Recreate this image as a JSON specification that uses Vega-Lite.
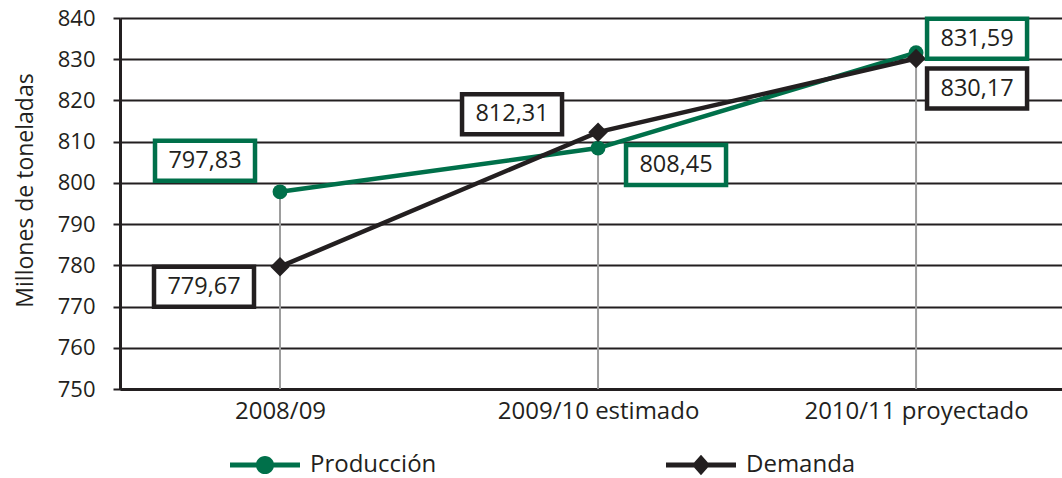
{
  "$schema": "https://vega.github.io/schema/vega-lite/v6.json",
  "width": 942,
  "height": 371,
  "autosize": {"type": "none"},
  "padding": {"left": 120, "top": 18, "right": 0, "bottom": 89},
  "background": "white",
  "config": {
    "locale": {"number": {"decimal": ",", "thousands": ".", "grouping": [3], "currency": ["", ""]}},
    "font": "Open Sans",
    "view": {"stroke": null}
  },
  "data": {
    "values": [
      {"periodo": "2008/09", "serie": "Producción", "valor": 797.83},
      {"periodo": "2009/10 estimado", "serie": "Producción", "valor": 808.45},
      {"periodo": "2010/11 proyectado", "serie": "Producción", "valor": 831.59},
      {"periodo": "2008/09", "serie": "Demanda", "valor": 779.67},
      {"periodo": "2009/10 estimado", "serie": "Demanda", "valor": 812.31},
      {"periodo": "2010/11 proyectado", "serie": "Demanda", "valor": 830.17}
    ]
  },
  "encoding": {
    "x": {
      "field": "periodo",
      "type": "ordinal",
      "sort": null,
      "scale": {"type": "point", "padding": 0.481, "align": 0.523},
      "axis": {
        "title": null,
        "labelAngle": 0,
        "labelLimit": 0,
        "domainColor": "#231f20",
        "domainWidth": 3,
        "ticks": false,
        "labelFontSize": 24,
        "labelPadding": 10,
        "labelColor": "#231f20",
        "grid": false
      }
    }
  },
  "layer": [
    {
      "transform": [{"aggregate": [{"op": "max", "field": "valor", "as": "maximo"}], "groupby": ["periodo"]}],
      "mark": {"type": "rule", "color": "#9d9d9d", "strokeWidth": 2},
      "encoding": {
        "y": {
          "field": "maximo",
          "type": "quantitative",
          "scale": {"domain": [750, 840], "nice": false, "zero": false},
          "axis": {
            "values": [750, 760, 770, 780, 790, 800, 810, 820, 830, 840],
            "title": "Millones de toneladas",
            "titleFontSize": 23,
            "titleFontWeight": "normal",
            "titleColor": "#231f20",
            "titlePadding": 20,
            "titleY": 172,
            "labelFontSize": 22,
            "labelColor": "#231f20",
            "labelPadding": 18,
            "domainColor": "#231f20",
            "domainWidth": 3,
            "tickColor": "#231f20",
            "tickWidth": 2,
            "tickSize": 7,
            "grid": true,
            "gridColor": "#231f20",
            "gridWidth": 2,
            "gridOpacity": 1
          }
        },
        "y2": {"datum": 750}
      }
    },
    {
      "mark": {"type": "line", "strokeWidth": 4.5},
      "encoding": {
        "y": {"field": "valor", "type": "quantitative"},
        "color": {
          "field": "serie",
          "type": "nominal",
          "sort": null,
          "scale": {"domain": ["Producción", "Demanda"], "range": ["#00704a", "#231f20"]},
          "legend": {
            "orient": "none",
            "legendX": 110,
            "legendY": 412,
            "direction": "horizontal",
            "title": null,
            "labelFontSize": 24,
            "labelColor": "#231f20",
            "symbolSize": 4900,
            "labelOffset": 10,
            "columnPadding": 229,
            "encode": {
              "symbols": {
                "update": {
                  "shape": {"signal": "datum.value === 'Producción' ? 'M-1,-0.07H1V0.07H-1Z M-0.26,0A0.26,0.26 0 1,1 0.26,0A0.26,0.26 0 1,1 -0.26,0Z' : 'M-1,-0.07H1V0.07H-1Z M0,-0.29L0.26,0L0,0.29L-0.26,0Z'"},
                  "fill": {"signal": "datum.value === 'Producción' ? '#00704a' : '#231f20'"},
                  "stroke": {"value": "transparent"},
                  "strokeWidth": {"value": 0},
                  "opacity": {"value": 1}
                }
              }
            }
          }
        }
      }
    },
    {
      "transform": [{"filter": "datum.serie === 'Producción'"}],
      "mark": {"type": "point", "shape": "circle", "filled": true, "opacity": 1, "size": 220, "color": "#00704a"},
      "encoding": {
        "y": {"field": "valor", "type": "quantitative"}
      }
    },
    {
      "transform": [{"filter": "datum.serie === 'Demanda'"}],
      "mark": {"type": "point", "shape": "diamond", "filled": true, "opacity": 1, "size": 380, "color": "#231f20"},
      "encoding": {
        "y": {"field": "valor", "type": "quantitative"}
      }
    },
    {
      "mark": {
        "type": "rect",
        "width": 100,
        "height": 40,
        "fill": "white",
        "strokeWidth": 4.5,
        "xOffset": {"expr": "datum.periodo === '2008/09' ? (datum.serie === 'Producción' ? -75 : -76) : datum.periodo === '2009/10 estimado' ? (datum.serie === 'Producción' ? 78 : -86) : 61"},
        "yOffset": {"expr": "datum.periodo === '2008/09' ? (datum.serie === 'Producción' ? -31 : 20) : datum.periodo === '2009/10 estimado' ? (datum.serie === 'Producción' ? 17 : -18) : (datum.serie === 'Producción' ? -14 : 30)"}
      },
      "encoding": {
        "y": {"field": "valor", "type": "quantitative"},
        "stroke": {"field": "serie", "type": "nominal", "scale": {"domain": ["Producción", "Demanda"], "range": ["#00704a", "#231f20"]}, "legend": null}
      }
    },
    {
      "mark": {
        "type": "text",
        "fontSize": 23.5,
        "color": "#231f20",
        "align": "center",
        "baseline": "middle",
        "dx": {"expr": "datum.periodo === '2008/09' ? (datum.serie === 'Producción' ? -75 : -76) : datum.periodo === '2009/10 estimado' ? (datum.serie === 'Producción' ? 78 : -86) : 61"},
        "dy": {"expr": "datum.periodo === '2008/09' ? (datum.serie === 'Producción' ? -31 : 20) : datum.periodo === '2009/10 estimado' ? (datum.serie === 'Producción' ? 17 : -18) : (datum.serie === 'Producción' ? -14 : 30)"}
      },
      "encoding": {
        "y": {"field": "valor", "type": "quantitative"},
        "text": {"field": "valor", "type": "quantitative", "format": ".2f"}
      }
    }
  ]
}
